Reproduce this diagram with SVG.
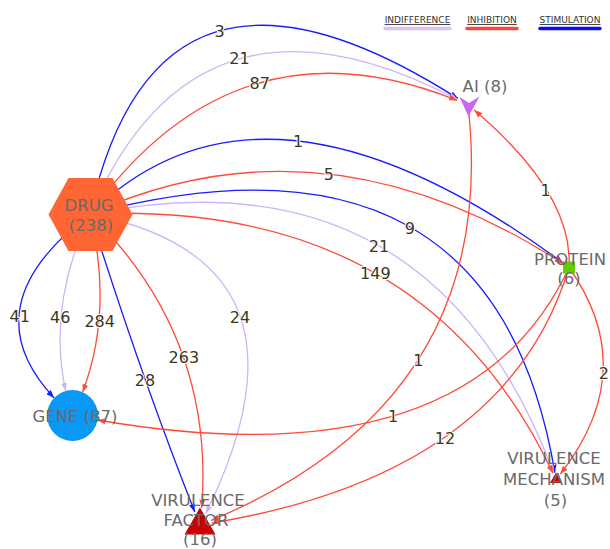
<svg xmlns="http://www.w3.org/2000/svg" width="610" height="549" viewBox="0 0 610 549">
<defs>
<style>
.e{fill:none;stroke-width:1.3}
.b{stroke:#1a1aff}
.r{stroke:#ff4a3a}
.p{stroke:#cfb4f7}
.el{font-family:"DejaVu Sans",Verdana,sans-serif;font-size:16px;fill:#38381c;text-anchor:middle;stroke:#fff;stroke-width:2px;paint-order:stroke;stroke-linejoin:round}
.nl{font-family:"DejaVu Sans",Verdana,sans-serif;font-size:16.5px;fill:#6a6a6a;text-anchor:middle}
.lg{font-family:"DejaVu Sans",Verdana,sans-serif;font-size:9px;fill:#333;text-anchor:middle;text-decoration:underline}
.bar{stroke-width:3.5;stroke-linecap:round}
</style>
<marker id="ab" viewBox="0 0 8 6" refX="8" refY="3" markerWidth="8" markerHeight="6" markerUnits="userSpaceOnUse" orient="auto"><path d="M0,0 L8,3 L0,6 z" fill="#1a1aff"/></marker>
<marker id="ar" viewBox="0 0 8 6" refX="8" refY="3" markerWidth="8" markerHeight="6" markerUnits="userSpaceOnUse" orient="auto"><path d="M0,0 L8,3 L0,6 z" fill="#ff4a3a"/></marker>
<marker id="ap" viewBox="0 0 8 6" refX="8" refY="3" markerWidth="8" markerHeight="6" markerUnits="userSpaceOnUse" orient="auto"><path d="M0,0 L8,3 L0,6 z" fill="#cfb4f7"/></marker>
</defs>
<rect width="610" height="549" fill="#fff"/>

<g id="legend">
<text class="lg" x="417.5" y="23">INDIFFERENCE</text>
<line class="bar" x1="385" y1="28.5" x2="450" y2="28.5" stroke="#d9c3f5"/>
<text class="lg" x="492" y="23">INHIBITION</text>
<line class="bar" x1="467" y1="28.5" x2="517" y2="28.5" stroke="#ff4533"/>
<text class="lg" x="570" y="23">STIMULATION</text>
<line class="bar" x1="540" y1="28.5" x2="600" y2="28.5" stroke="#0a0aff"/>
</g>

<g id="connectors">
<path class="e b" marker-end="url(#ab)" d="M90,214 Q157.9,-92.4 458.0,98.6"/>
<path class="e p" marker-end="url(#ap)" d="M90,214 Q196.9,-36.5 457.5,99.4"/>
<path class="e r" marker-end="url(#ar)" d="M90,214 Q235.4,11.5 457.0,100.4"/>
<path class="e b" marker-end="url(#ab)" d="M90,214 Q264.8,43.0 563.0,263.0"/>
<path class="e r" marker-end="url(#ar)" d="M90,214 Q323.6,108.6 563.0,263.6"/>
<path class="e b" marker-end="url(#ab)" d="M90,214 Q493.2,108.2 554.9,472.6"/>
<path class="e p" marker-end="url(#ap)" d="M90,214 Q431.6,145.9 553.6,473.0"/>
<path class="e r" marker-end="url(#ar)" d="M90,214 Q423.2,199.4 553.0,473.2"/>
<path class="e p" marker-end="url(#ap)" d="M90,214 Q329.6,261.4 205.8,513.5"/>
<path class="e r" marker-end="url(#ar)" d="M90,214 Q214.8,336.4 201.7,507.7"/>
<path class="e b" marker-end="url(#ab)" d="M90,214 Q142.4,380.2 194.8,511.9"/>
<path class="e b" marker-end="url(#ab)" d="M90,214 Q-31.5,306.3 54.1,397.9"/>
<path class="e p" marker-end="url(#ap)" d="M90,214 Q47.0,305.9 65.7,390.9"/>
<path class="e r" marker-end="url(#ar)" d="M90,214 Q113.4,311.1 82.6,392.2"/>
<path class="e r" marker-end="url(#ar)" d="M569,267.5 Q573.4,194.0 474.1,110.1"/>
<path class="e r" marker-end="url(#ar)" d="M468,105 Q501.4,399.5 211.0,520.5"/>
<path class="e r" marker-end="url(#ar)" d="M569,267.5 Q468.6,483.6 97.3,420.0"/>
<path class="e r" marker-end="url(#ar)" d="M569,267.5 Q506.7,473.7 211.8,523.1"/>
<path class="e r" marker-end="url(#ar)" d="M569,267.5 Q641.6,369.8 560.3,474.1"/>

<text class="el" x="219.5" y="36.7">3</text>
<text class="el" x="239.5" y="64.3">21</text>
<text class="el" x="259.7" y="89.3">87</text>
<text class="el" x="298" y="146.7">1</text>
<text class="el" x="328.8" y="180">5</text>
<text class="el" x="409.8" y="234">9</text>
<text class="el" x="379" y="251.7">21</text>
<text class="el" x="375.3" y="279.3">149</text>
<text class="el" x="240" y="322.7">24</text>
<text class="el" x="183.8" y="362.7">263</text>
<text class="el" x="145" y="385.7">28</text>
<text class="el" x="19.7" y="321.7">41</text>
<text class="el" x="60.3" y="323.3">46</text>
<text class="el" x="99.7" y="326.7">284</text>
<text class="el" x="545.7" y="195.7">1</text>
<text class="el" x="418.3" y="365.7">1</text>
<text class="el" x="393" y="422.3">1</text>
<text class="el" x="445" y="444">12</text>
<text class="el" x="603.8" y="379.3">2</text>
</g>

<g id="drug">
<polygon points="48.5,214.5 68.5,178 112.5,178 132.5,214.5 112.5,251 68.5,251" fill="#ff6633"/>
<text class="nl" x="89" y="210.7">DRUG</text>
<text class="nl" x="91" y="231">(238)</text>
</g>

<g id="gene">
<circle cx="72.5" cy="415.5" r="25.5" fill="#0a98f5"/>
<text class="nl" x="75" y="421.7">GENE (87)</text>
</g>

<g id="ai">
<polygon points="459.5,97 469,103 479.5,96.5 468.5,116.5" fill="#c966f5"/>
<text class="nl" x="485" y="92">AI (8)</text>
</g>

<g id="protein">
<rect x="563" y="261.5" width="12" height="12" fill="#66cc00"/>
<text class="nl" x="570" y="265">PROTEIN</text>
<text class="nl" x="569" y="283.5">(6)</text>
</g>

<g id="virulence-mechanism">
<polygon points="556,472.5 562,483 550,483" fill="#cc0000"/>
<text class="nl" x="554" y="464">VIRULENCE</text>
<text class="nl" x="554" y="485">MECHANISM</text>
<text class="nl" x="555.5" y="505.5">(5)</text>
</g>

<g id="virulence-factor">
<polygon points="200,507.5 215.5,534.5 184.5,534.5" fill="#cc0000"/>
<text class="nl" x="198" y="505.7">VIRULENCE</text>
<text class="nl" x="196" y="526">FACTOR</text>
<text class="nl" x="200" y="545">(16)</text>
</g>
</svg>
